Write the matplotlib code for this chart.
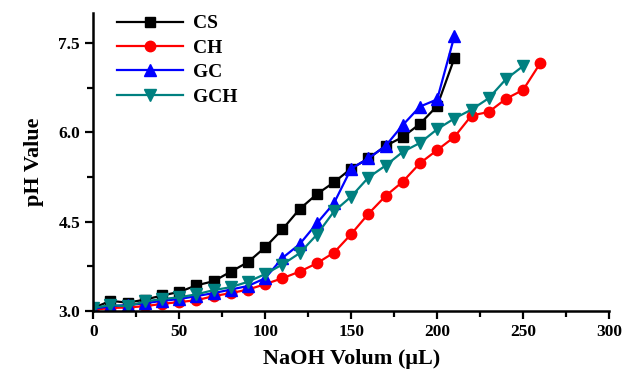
import matplotlib

matplotlib.use("Agg")
import matplotlib.pyplot as plt
from matplotlib.ticker import MultipleLocator

plt.rcParams["font.family"] = ["Liberation Serif", "DejaVu Serif"]
plt.rcParams["font.weight"] = "bold"

# NaOH volume (uL) and pH readings
x_cs = [0, 10, 20, 30, 40, 50, 60, 70, 80, 90, 100, 110, 120, 130, 140, 150,
        160, 170, 180, 190, 200, 210]
ph_cs = [3.05, 3.17, 3.14, 3.19, 3.26, 3.32, 3.43, 3.50, 3.66, 3.82, 4.07, 4.37,
         4.71, 4.96, 5.16, 5.39, 5.56, 5.77, 5.92, 6.14, 6.44, 7.24]

x_ch = [0, 10, 20, 30, 40, 50, 60, 70, 80, 90, 100, 110, 120, 130, 140, 150,
        160, 170, 180, 190, 200, 210, 220, 230, 240, 250, 260]
ph_ch = [3.02, 3.05, 3.06, 3.08, 3.12, 3.15, 3.18, 3.25, 3.30, 3.36, 3.45, 3.55,
         3.66, 3.80, 3.98, 4.29, 4.63, 4.93, 5.17, 5.48, 5.70, 5.92, 6.28, 6.34,
         6.56, 6.71, 7.16]

x_gc = [0, 10, 20, 30, 40, 50, 60, 70, 80, 90, 100, 110, 120, 130, 140, 150,
        160, 170, 180, 190, 200, 210]
ph_gc = [3.04, 3.08, 3.10, 3.13, 3.17, 3.20, 3.25, 3.30, 3.36, 3.42, 3.55, 3.89,
         4.12, 4.47, 4.81, 5.39, 5.56, 5.77, 6.12, 6.43, 6.55, 7.61]

x_gch = [0, 10, 20, 30, 40, 50, 60, 70, 80, 90, 100, 110, 120, 130, 140, 150,
         160, 170, 180, 190, 200, 210, 220, 230, 240, 250]
ph_gch = [3.05, 3.10, 3.08, 3.16, 3.20, 3.23, 3.28, 3.35, 3.40, 3.49, 3.62, 3.78,
          3.97, 4.28, 4.67, 4.92, 5.24, 5.44, 5.67, 5.82, 6.05, 6.23, 6.38, 6.57,
          6.89, 7.11]

fig = plt.figure(figsize=(6.26, 3.72), dpi=100)
ax = fig.add_axes([0.149, 0.164, 0.824, 0.801])

series = [
    (x_cs, ph_cs, "black", "s", 7, "CS"),
    (x_ch, ph_ch, "#ff0000", "o", 7.5, "CH"),
    (x_gc, ph_gc, "#0000ff", "^", 8.5, "GC"),
    (x_gch, ph_gch, "#008080", "v", 8.5, "GCH"),
]
for xs, ys, c, m, ms, label in series:
    ax.plot(xs, ys, color=c, marker=m, ms=ms, lw=1.6, label=label)

ax.set_xlim(0, 300)
ax.set_ylim(3.0, 8.0)
ax.xaxis.set_major_locator(MultipleLocator(50))
ax.xaxis.set_minor_locator(MultipleLocator(25))
ax.yaxis.set_major_locator(MultipleLocator(1.5))
ax.yaxis.set_minor_locator(MultipleLocator(0.75))
ax.yaxis.set_major_formatter(lambda v, _: f"{v:.1f}")
ax.spines[["top", "right"]].set_visible(False)
for s in ("left", "bottom"):
    ax.spines[s].set_linewidth(1.8)
ax.tick_params(which="major", length=6, width=1.6, labelsize=12.5)
ax.tick_params(which="minor", length=4, width=1.6)
for lab in ax.get_xticklabels() + ax.get_yticklabels():
    lab.set_fontweight("bold")

ax.set_xlabel("NaOH Volum (μL)", fontsize=16, fontweight="bold", labelpad=6)
ax.set_ylabel("pH Value", fontsize=16, fontweight="bold", labelpad=10)

ax.legend(loc="upper left", frameon=False, handlelength=3.4,
          prop={"size": 14, "weight": "bold"}, borderaxespad=0.3,
          labelspacing=0.35, handletextpad=0.5, bbox_to_anchor=(0.02, 1.04))

fig.savefig("out.png", dpi=100)
